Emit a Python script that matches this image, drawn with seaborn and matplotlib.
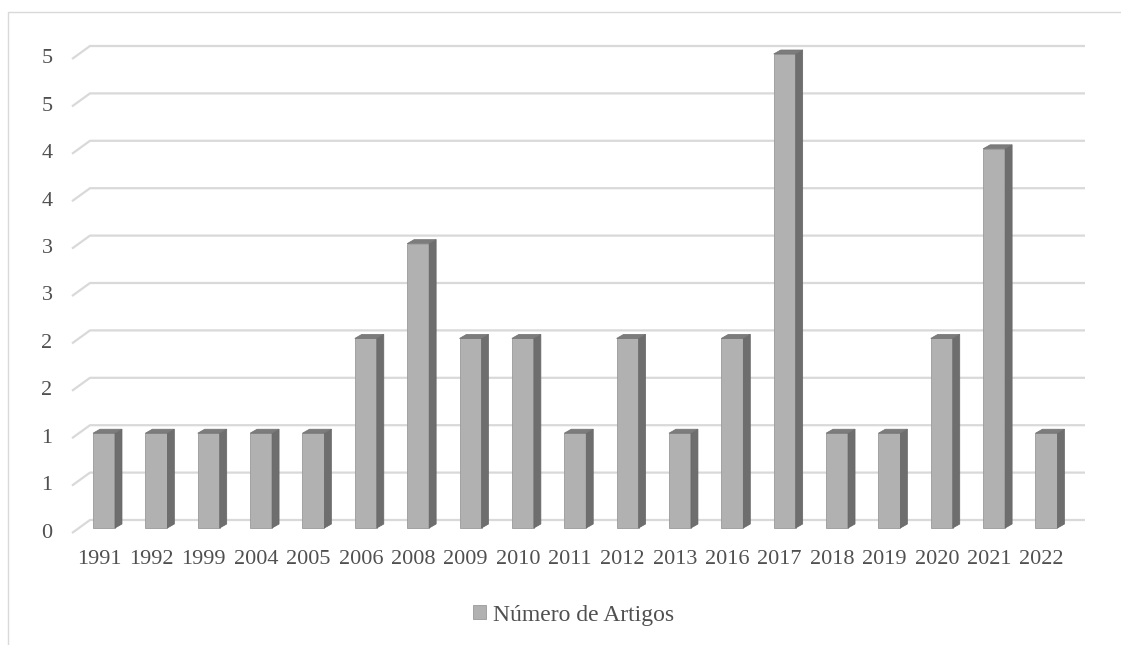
import matplotlib
matplotlib.use("Agg")
import matplotlib.pyplot as plt
import seaborn as sns
import pandas as pd
from matplotlib.transforms import blended_transform_factory, IdentityTransform, ScaledTranslation
from matplotlib.patches import Polygon, Rectangle

# ---------------- data ----------------
years = ["1991", "1992", "1999", "2004", "2005", "2006", "2008", "2009", "2010",
         "2011", "2012", "2013", "2016", "2017", "2018", "2019", "2020", "2021", "2022"]
artigos = [1, 1, 1, 1, 1, 2, 3, 2, 2, 1, 2, 1, 2, 5, 1, 1, 2, 4, 1]
y_ticks = [0, 0.5, 1, 1.5, 2, 2.5, 3, 3.5, 4, 4.5, 5]
y_tick_labels = ["0", "1", "1", "2", "2", "3", "3", "4", "4", "5", "5"]
series_name = "Número de Artigos"

# ---------------- style ----------------
sns.set_theme(style="white")
plt.rcParams['font.family'] = ['Liberation Serif', 'DejaVu Serif']

W, H = 1121, 645
fig = plt.figure(figsize=(W / 100, H / 100), dpi=100)
fig.patch.set_facecolor("white")

# outer chart frame
fig.add_artist(Rectangle((8 / W, -0.2), 1.5, (1 - 12 / H) + 0.2, transform=fig.transFigure,
                         fill=False, edgecolor="#d9d9d9", lw=1.0, zorder=0))

# plot area (pixels)
L, R, T, B = 72, 1085, 40, 540
ax = fig.add_axes([L / W, (H - B) / H, (R - L) / W, (B - T) / H])
ax.set_facecolor("none")

ppu = 94.8           # pixels per unit
floor_px = 12        # bar floor above axes bottom
ymin = -floor_px / ppu
step = 52.36

df = pd.DataFrame({"Ano": years, "Artigos": artigos})
sns.barplot(data=df, x="Ano", y="Artigos", ax=ax, color="#b1b1b1", saturation=1,
            width=0.42, label=series_name, edgecolor="#9a9a9a", linewidth=0.6, zorder=3)
ax.set_xlim((L - 104) / step, (R - 104) / step)
ax.set_ylim(ymin, ymin + (B - T) / ppu)

for s in ax.spines.values():
    s.set_visible(False)
ax.set_xlabel("")
ax.set_ylabel("")

# pseudo-3D gridlines (back wall + side wall)
blend = blended_transform_factory(ax.transAxes, ax.transData)
a = 18 / (R - L)
for v in y_ticks:
    ax.plot([0, a, 1], [v - 5 / ppu, v + 8 / ppu, v + 8 / ppu], transform=blend,
            color="#d9d9d9", lw=1.6, zorder=1, clip_on=False, solid_capstyle="butt")

txt_color = "#505050"

# y tick labels (manual, at the front plane)
ax.set_yticks([])
for v, lab in zip(y_ticks, y_tick_labels):
    ax.text((47 - L) / (R - L), v - 5 / ppu, lab, transform=blend, ha="center", va="center",
            fontsize=16, color=txt_color)

# x tick labels
xt = list(ax.get_xticks())
xl = [t.get_text() for t in ax.get_xticklabels()]
ax.set_xticks([])
xoff = ax.transData + ScaledTranslation(-0.05, 0, fig.dpi_scale_trans)
lab_tr = blended_transform_factory(xoff, fig.transFigure)
for p, lab in zip(xt, xl):
    ax.text(p, 1 - 560 / H, lab, transform=lab_tr, ha="center", va="center",
            fontsize=16, color=txt_color)

# 3D faces of bars (derived from seaborn's bars)
dx, dy = 7, 4
for bar in ax.patches:
    x0, y0 = bar.get_x(), bar.get_y()
    x1, y1 = x0 + bar.get_width(), y0 + bar.get_height()
    (px0, py0), (px1, py1) = ax.transData.transform([(x0, y0), (x1, y1)])
    side = [(px1, py0), (px1, py1), (px1 + dx, py1 + dy), (px1 + dx, py0 + dy)]
    top = [(px0, py1), (px1, py1), (px1 + dx, py1 + dy), (px0 + dx, py1 + dy)]
    fig.add_artist(Polygon(side, closed=True, transform=IdentityTransform(),
                           facecolor="#6e6e6e", edgecolor="#666666", lw=0.5, zorder=2))
    fig.add_artist(Polygon(top, closed=True, transform=IdentityTransform(),
                           facecolor="#7c7c7c", edgecolor="#727272", lw=0.5, zorder=2))

# legend
handles, labels = ax.get_legend_handles_labels()
if ax.get_legend() is not None:
    ax.get_legend().remove()
fig.legend(handles[:1], [series_name], loc="center", bbox_to_anchor=(574 / W, 1 - 615 / H),
           frameon=False, fontsize=17, handlelength=0.55, handleheight=0.55,
           handletextpad=0.3, labelcolor=txt_color)

fig.savefig("out.png", dpi=100, facecolor="white")
